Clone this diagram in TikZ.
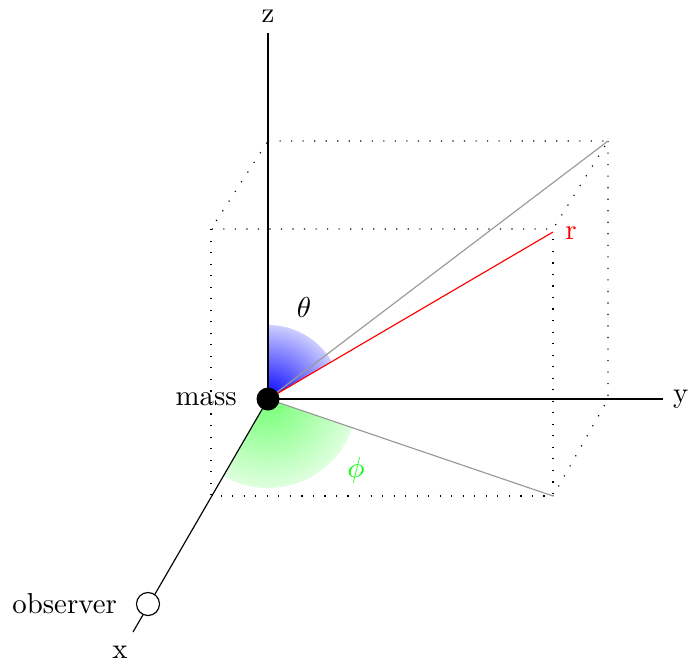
\documentclass[tikz,border=0pt]{standalone}
\begin{document}
\begin{tikzpicture}[x=0.347pt,y=0.347pt,
  axis/.style={black},
  boxline/.style={black,line width=0.4pt,dash pattern=on 0.4pt off 3.6pt},
  proj/.style={gray!80},
  lbl/.style={inner sep=0pt}]
\useasboundingbox (0,0) rectangle (688,664);
% points
\coordinate (O) at (268,265);
\coordinate (zend) at (268,631);
\coordinate (yend) at (663,265);
\coordinate (xend) at (133,32);
\coordinate (TBL) at (268,523);
\coordinate (TBR) at (608,523);
\coordinate (TFL) at (211,435);
\coordinate (TFR) at (553,435);
\coordinate (BFL) at (211,168);
\coordinate (BFR) at (553,168);
\coordinate (RB) at (608,265);
\coordinate (rend) at (553,432);
% shaded angles
\begin{scope}
  \clip (O) -- ++(30.4:74) arc[start angle=30.4,end angle=90,radius=74] -- cycle;
  \shade[inner color=blue,outer color=white] (O) circle (92);
\end{scope}
\begin{scope}
  \clip (O) -- ++(-120.1:89) arc[start angle=-120.1,end angle=-18.8,radius=89] -- cycle;
  \shade[inner color=green!55,outer color=white] (O) circle (115);
\end{scope}
% box
\draw[boxline] (TBL) -- (TBR) -- (TFR) -- (TFL) -- cycle;
\draw[boxline] (TFL) -- (BFL) -- (BFR) -- (TFR);
\draw[boxline] (TBR) -- (RB) -- (BFR);
% axes
\draw[axis] (O) -- (zend) node[above,inner sep=3.33pt] (zl) {z};
\draw[axis] (O) -- (yend) node[right,inner sep=3.33pt] (yl) {y};
\draw[axis] (O) -- (xend);
\node (xl) at (120,12) {x};
% vectors
\draw[proj] (O) -- (TBR);
\draw[proj] (O) -- (BFR);
\draw[red] (O) -- (rend);
\node[text=red] (rl) at (571,431) {r};
\node (th) at (304,357) {$\theta$};
\node[text=green] (ph) at (356,194) {$\phi$};
% mass and observer
\fill[black] (O) circle (11.5);
\node[anchor=east] (ml) at (247,265) {mass};
\draw[fill=white] (148,60) circle (11.5);
\node[anchor=east] (ol) at (127,60) {observer};
\end{tikzpicture}
\end{document}
